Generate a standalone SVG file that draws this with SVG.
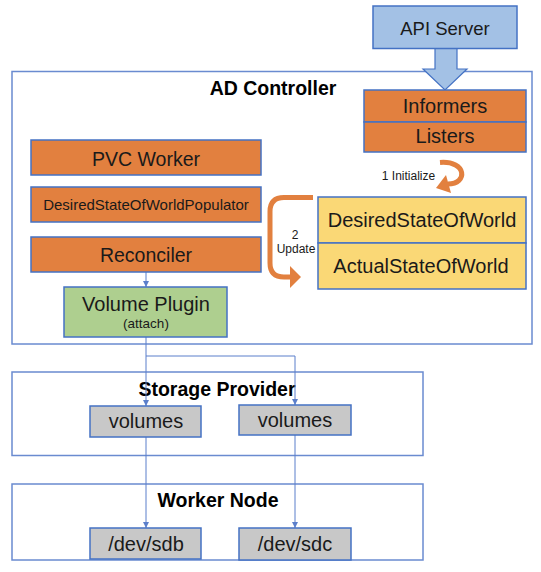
<svg xmlns="http://www.w3.org/2000/svg" width="541" height="572" viewBox="0 0 541 572">
<style>
text{font-family:"Liberation Sans",Arial,sans-serif;fill:#1a1a1a;text-anchor:middle}
.box{stroke:#4472C4;stroke-width:1.5}
.cont{fill:#fff;stroke:#6A8BD0;stroke-width:1.5}
.org{fill:#E2803F}
.yel{fill:#FAD876}
.grn{fill:#AECF8F}
.gry{fill:#C8C8C8}
.t20{font-size:20px}
.title{font-size:19.5px;font-weight:bold;fill:#000}
.lbl{font-size:12px}
.conn{fill:none;stroke:#5B7FCB;stroke-width:1}
.curve{fill:none;stroke:#E2803F;stroke-width:5}
</style>
<defs>
<marker id="ah" markerUnits="userSpaceOnUse" markerWidth="7" markerHeight="7" refX="6" refY="3" orient="auto">
<path d="M0,0 L6,3 L0,6 z" fill="#5B7FCB"/>
</marker>
</defs>

<g id="ad-controller">
<rect class="cont" x="12" y="71.5" width="520" height="272.5"/>
<text class="title" x="273" y="95">AD Controller</text>
</g>
<g id="storage-provider">
<rect class="cont" x="12" y="372" width="411" height="83.5"/>
<text class="title" x="217" y="396">Storage Provider</text>
</g>
<g id="worker-node">
<rect class="cont" x="12" y="484" width="411" height="76"/>
<text class="title" x="218" y="507">Worker Node</text>
</g>

<g id="connectors">
<line class="conn" x1="146" y1="272" x2="146" y2="287" marker-end="url(#ah)"/>
<line class="conn" x1="146" y1="337" x2="146" y2="406" marker-end="url(#ah)"/>
<polyline class="conn" points="146,356 295,356 295,405" marker-end="url(#ah)"/>
<line class="conn" x1="146" y1="437" x2="146" y2="528" marker-end="url(#ah)"/>
<line class="conn" x1="295" y1="435" x2="295" y2="528" marker-end="url(#ah)"/>
<path id="big-arrow" d="M435,48.5 L457,48.5 L457,69 L467,69 L445,90 L423,69 L435,69 Z" fill="#A3C1E5" stroke="#4472C4" stroke-width="1.2"/>
<g id="initialize">
<path class="curve" d="M440,162.5 C467,160.5 468,184 448,184"/>
<polygon points="446,175 436,188 451,193" fill="#E2803F"/>
<text class="lbl" x="408.5" y="180">1 Initialize</text>
</g>
<g id="update">
<path class="curve" d="M313,197.5 L284,197.5 Q270,197.5 270,211.5 L270,263 Q270,277 284,277 L291,277"/>
<polygon points="290,266 301,277 290,288" fill="#E2803F"/>
<text class="lbl" x="295" y="239">2</text>
<text class="lbl" x="296" y="253">Update</text>
</g>
</g>

<g id="api-server">
<rect class="box" x="373" y="6" width="144" height="42.5" fill="#A3C1E5"/>
<text x="445" y="35" font-size="18.5">API Server</text>
</g>
<g id="informers">
<rect class="box org" x="364" y="90" width="162" height="32"/>
<text class="t20" x="445" y="113">Informers</text>
</g>
<g id="listers">
<rect class="box org" x="364" y="122" width="162" height="30"/>
<text class="t20" x="445" y="143">Listers</text>
</g>
<g id="pvc-worker">
<rect class="box org" x="31" y="140" width="230" height="35"/>
<text x="146" y="166" font-size="19.5">PVC Worker</text>
</g>
<g id="dsow-populator">
<rect class="box org" x="31" y="187" width="230" height="35"/>
<text x="146" y="210" font-size="15">DesiredStateOfWorldPopulator</text>
</g>
<g id="reconciler">
<rect class="box org" x="31" y="237" width="230" height="35"/>
<text x="146" y="262" font-size="19.5">Reconciler</text>
</g>
<g id="volume-plugin">
<rect class="box grn" x="64" y="287" width="163" height="50"/>
<text class="t20" x="146" y="311">Volume Plugin</text>
<text x="146" y="328" font-size="13.5">(attach)</text>
</g>
<g id="desired-state">
<rect class="box yel" x="318" y="197" width="208" height="46"/>
<text class="t20" x="422" y="227">DesiredStateOfWorld</text>
</g>
<g id="actual-state">
<rect class="box yel" x="318" y="243" width="208" height="46"/>
<text class="t20" x="421" y="273">ActualStateOfWorld</text>
</g>
<g id="volumes-1">
<rect class="box gry" x="90" y="406" width="111" height="31"/>
<text class="t20" x="146" y="428">volumes</text>
</g>
<g id="volumes-2">
<rect class="box gry" x="239" y="405" width="112" height="30"/>
<text class="t20" x="295" y="427">volumes</text>
</g>
<g id="dev-sdb">
<rect class="box gry" x="90" y="528" width="111" height="31"/>
<text class="t20" x="146" y="551">/dev/sdb</text>
</g>
<g id="dev-sdc">
<rect class="box gry" x="239" y="528" width="112" height="32"/>
<text class="t20" x="295" y="551">/dev/sdc</text>
</g>
</svg>
